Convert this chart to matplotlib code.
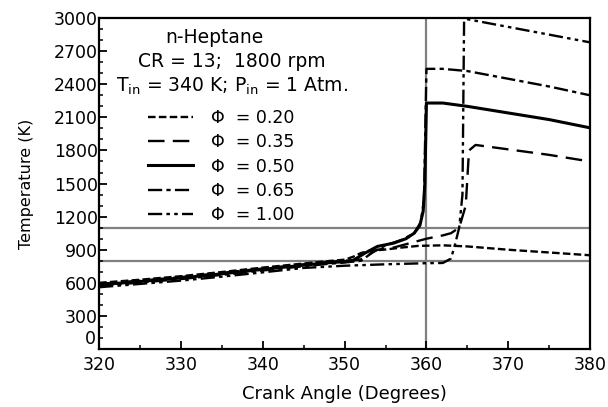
import matplotlib
matplotlib.use("Agg")
import matplotlib.pyplot as plt
from matplotlib.ticker import MultipleLocator, FuncFormatter

plt.rcParams['font.family'] = ['DejaVu Sans']

# crank angle (deg) / temperature (K) for each equivalence ratio
ca_020 = [320, 325, 330, 335, 340, 345, 348, 350, 351, 352, 353, 355, 357, 359, 362, 365, 370, 375, 380]
t_020 = [600, 628, 660, 698, 738, 775, 797, 810, 835, 870, 890, 902, 920, 935, 940, 930, 900, 875, 850]

ca_035 = [320, 325, 330, 335, 340, 345, 348, 350, 352, 353, 354, 356, 358, 360, 362, 363, 364, 364.8, 365.2, 366, 370, 375, 380]
t_035 = [590, 620, 652, 690, 730, 768, 790, 800, 812, 860, 900, 920, 960, 1000, 1030, 1050, 1100, 1300, 1800, 1850, 1810, 1760, 1700]

ca_050 = [320, 325, 330, 335, 340, 345, 348, 350, 351, 352.5, 354, 356, 357.5, 358.5, 359.2, 359.6, 359.8, 360, 362, 365, 370, 375, 380]
t_050 = [582, 612, 644, 682, 722, 760, 782, 792, 802, 870, 930, 960, 1000, 1050, 1120, 1250, 1500, 2230, 2230, 2200, 2140, 2080, 2005]

ca_065 = [320, 325, 330, 335, 340, 345, 348, 350, 352, 353.5, 355, 357, 358.5, 359.3, 359.7, 360, 362, 365, 370, 375, 380]
t_065 = [572, 602, 634, 672, 712, 750, 772, 784, 800, 880, 940, 990, 1050, 1150, 1350, 2540, 2540, 2520, 2450, 2380, 2300]

ca_100 = [320, 325, 330, 335, 340, 345, 350, 355, 358, 360, 362, 363, 363.5, 364, 364.4, 364.6, 365, 370, 375, 380]
t_100 = [560, 590, 620, 656, 695, 735, 755, 768, 774, 778, 780, 820, 950, 1100, 1400, 2980, 2990, 2920, 2850, 2780]

labels = ['\u03A6  = 0.20', '\u03A6  = 0.35', '\u03A6  = 0.50', '\u03A6  = 0.65', '\u03A6  = 1.00']

fig = plt.figure(figsize=(6.08, 4.07), dpi=100)
ax = fig.add_axes([0.163, 0.1425, 0.8076, 0.813])

# reference lines
ax.axvline(360, color='#808080', lw=1.6, zorder=1)
ax.axhline(1100, color='#808080', lw=1.6, zorder=1)
ax.axhline(800, color='#808080', lw=1.6, zorder=1)

lw = 1.7
ax.plot(ca_020, t_020, color='black', lw=lw, dashes=(3.2, 1.4), label=labels[0])
ax.plot(ca_035, t_035, color='black', lw=lw, dashes=(7, 3.5), label=labels[1])
ax.plot(ca_050, t_050, color='black', lw=lw + 0.5, label=labels[2])
ax.plot(ca_065, t_065, color='black', lw=lw, dashes=(6, 1.8, 1.8, 1.8), label=labels[3])
ax.plot(ca_100, t_100, color='black', lw=lw, dashes=(6, 1.8, 1.5, 1.8, 1.5, 1.8), label=labels[4])

ax.set_xlim(320, 380)
ax.set_ylim(0, 3000)
ax.xaxis.set_major_locator(MultipleLocator(10))
ax.xaxis.set_minor_locator(MultipleLocator(5))
ax.yaxis.set_major_locator(MultipleLocator(300))
ax.yaxis.set_minor_locator(MultipleLocator(100))
# the "0" is drawn by hand below, sitting on the axis line
ax.yaxis.set_major_formatter(FuncFormatter(lambda v, p: '' if v == 0 else '%d' % v))
ax.tick_params(which='major', direction='in', length=6, width=1.3, labelsize=12.5)
ax.tick_params(axis='x', which='major', pad=5)
ax.tick_params(axis='y', which='major', pad=1)
ax.tick_params(which='minor', direction='in', length=3, width=1.1)
for s in ax.spines.values():
    s.set_linewidth(1.6)

ax.text(-0.006, 0.003, '0', transform=ax.transAxes, ha='right', va='bottom', fontsize=12.5)

ax.set_xlabel('Crank Angle (Degrees)', fontsize=13, labelpad=8)
ax.set_ylabel('Temperature (K)', fontsize=11.5, labelpad=14)

ax.text(0.235, 0.94, 'n-Heptane', transform=ax.transAxes, ha='center', va='center', fontsize=13.5)
ax.text(0.27, 0.868, 'CR = 13;  1800 rpm', transform=ax.transAxes, ha='center', va='center', fontsize=13.5)
ax.text(0.27, 0.793, r'T$_{\rm in}$ = 340 K; P$_{\rm in}$ = 1 Atm.', transform=ax.transAxes,
        ha='center', va='center', fontsize=13.5)

ax.legend(loc='upper left', bbox_to_anchor=(0.075, 0.762), frameon=False, fontsize=12.5,
          handlelength=2.6, handletextpad=1.0, labelspacing=0.36, borderpad=0.2)

fig.savefig('out.png', dpi=100)
